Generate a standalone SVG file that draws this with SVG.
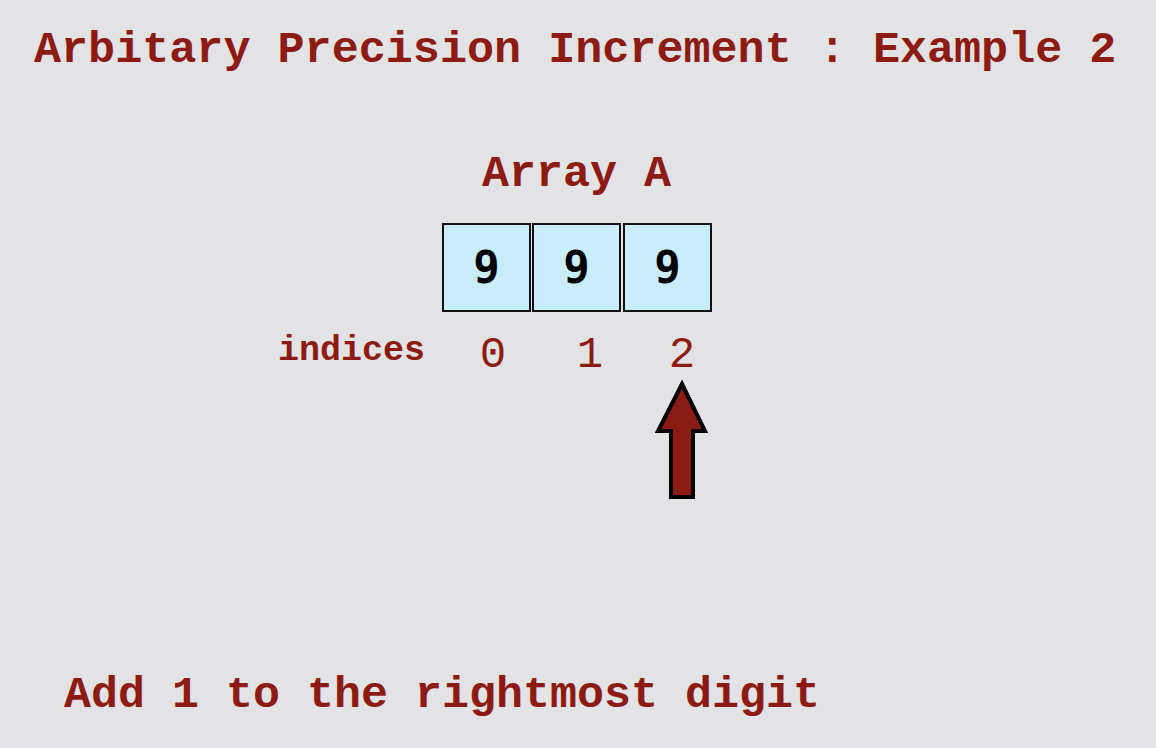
<svg xmlns="http://www.w3.org/2000/svg" width="1156" height="748" viewBox="0 0 1156 748">
<style>
.t{font-family:"Liberation Mono","Courier New",monospace;font-weight:bold;fill:#8c1c13}
.idx{font-family:"Liberation Mono","Courier New",monospace;fill:#8c1c13;font-size:44px;text-anchor:middle}
.cell{fill:#c9edfb;stroke:#111;stroke-width:2}
.d{font-family:"DejaVu Sans Mono",monospace;font-weight:bold;font-size:44px;fill:#000;text-anchor:middle}
</style>
<rect width="1156" height="748" fill="#e3e2e5"/>
<text class="t" x="34" y="62" font-size="45.1">Arbitary Precision Increment : Example 2</text>
<text class="t" x="482" y="186" font-size="45">Array A</text>
<g id="cell0"><rect class="cell" x="443" y="224" width="87" height="87"/><text class="d" x="486.5" y="283">9</text></g>
<g id="cell1"><rect class="cell" x="533" y="224" width="87" height="87"/><text class="d" x="576.5" y="283">9</text></g>
<g id="cell2"><rect class="cell" x="624" y="224" width="87" height="87"/><text class="d" x="667.5" y="283">9</text></g>
<text class="t" x="278" y="360" font-size="35">indices</text>
<text class="idx" x="493" y="367">0</text>
<text class="idx" x="590" y="367">1</text>
<text class="idx" x="682" y="367">2</text>
<g id="arrow"><polygon points="682,384 705,431 693,431 693,497 671,497 671,431 658,431" fill="#8c1c13" stroke="#000" stroke-width="4" stroke-linejoin="miter"/></g>
<text class="t" x="64" y="707" font-size="45">Add 1 to the rightmost digit</text>
</svg>
